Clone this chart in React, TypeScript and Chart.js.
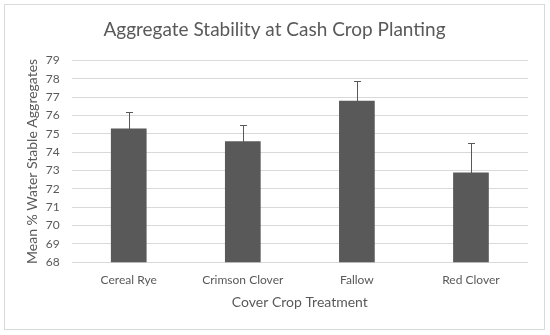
import React, { useEffect, useRef } from "react";
import { Chart, registerables } from "chart.js";

Chart.register(...registerables);

const categories = ["Cereal Rye", "Crimson Clover", "Fallow", "Red Clover"];
const means = [75.3, 74.6, 76.8, 72.9];
const errors = [0.9, 0.9, 1.1, 1.6];
const yMin = 68;
const yMax = 79;
const chartTitle = "Aggregate Stability at Cash Crop Planting";

const FONT = "Lato, 'Open Sans', sans-serif";
const TEXT = "#595959";

const titlePlugin = {
  id: "centeredTitle",
  afterDraw(chart: any) {
    const ctx = chart.ctx;
    ctx.save();
    ctx.fillStyle = TEXT;
    ctx.font = `19px ${FONT}`;
    ctx.textAlign = "center";
    ctx.textBaseline = "middle";
    ctx.fillText(chartTitle, 274.5, 30);
    ctx.restore();
  },
};

const errorBarPlugin = {
  id: "errorBars",
  afterDatasetsDraw(chart: any) {
    const meta = chart.getDatasetMeta(0);
    const ys = chart.scales.y;
    const ctx = chart.ctx;
    ctx.save();
    ctx.strokeStyle = "#595959";
    ctx.lineWidth = 1;
    meta.data.forEach((bar: any, i: number) => {
      const x = Math.round(bar.x) + 0.5;
      const top = Math.round(ys.getPixelForValue(means[i] + errors[i])) + 0.5;
      const bot = Math.round(ys.getPixelForValue(means[i] - errors[i])) + 0.5;
      ctx.beginPath();
      ctx.moveTo(x, top);
      ctx.lineTo(x, bot);
      ctx.moveTo(x - 3.5, top);
      ctx.lineTo(x + 3.5, top);
      ctx.moveTo(x - 3.5, bot);
      ctx.lineTo(x + 3.5, bot);
      ctx.stroke();
    });
    ctx.restore();
  },
};

export default function App() {
  const ref = useRef<HTMLCanvasElement | null>(null);
  useEffect(() => {
    if (!ref.current) return;
    const chart = new Chart(ref.current, {
      type: "bar",
      data: {
        labels: categories,
        datasets: [
          {
            data: means,
            backgroundColor: "#595959",
            borderWidth: 0,
            categoryPercentage: 1,
            barPercentage: 0.313,
          },
        ],
      },
      options: {
        animation: false,
        responsive: false,
        devicePixelRatio: 1,
        layout: { padding: { left: 0, right: 22, top: 60.5, bottom: 0 } },
        plugins: {
          legend: { display: false },
          tooltip: { enabled: false },
          title: { display: false },
        },
        scales: {
          x: {
            grid: { display: false },
            border: { display: false },
            ticks: {
              color: TEXT,
              font: { family: FONT, size: 12 },
              padding: 3,
              maxRotation: 0,
            },
            title: {
              display: true,
              text: "Cover Crop Treatment",
              color: TEXT,
              font: { family: FONT, size: 14, lineHeight: 1.2 },
              padding: { top: 0, bottom: 24.5 },
            },
            afterFit(scale: any) {
              scale.height = 72.7;
            },
          },
          y: {
            min: yMin,
            max: yMax,
            grid: { color: "#d9d9d9", lineWidth: 1, drawTicks: false },
            border: { display: false },
            ticks: {
              stepSize: 1,
              color: TEXT,
              font: { family: FONT, size: 12 },
              padding: 12,
            },
            title: {
              display: true,
              text: "Mean % Water Stable Aggregates",
              color: TEXT,
              font: { family: FONT, size: 14, lineHeight: 1.2 },
              padding: { top: 24, bottom: 0 },
            },
            afterFit(scale: any) {
              scale.width = 71.7;
            },
          },
        },
      },
      plugins: [errorBarPlugin, titlePlugin],
    });
    return () => chart.destroy();
  }, []);

  return (
    <div
      style={{
        position: "fixed",
        left: 0,
        top: 0,
        width: 550,
        height: 335,
        background: "#fff",
      }}
    >
      <div
        style={{
          position: "absolute",
          left: 4,
          top: 4,
          width: 541,
          height: 326,
          border: "1px solid #d9d9d9",
          boxSizing: "border-box",
        }}
      />
      <canvas
        ref={ref}
        width={550}
        height={335}
        style={{ position: "absolute", left: 0, top: 0, width: 550, height: 335 }}
      />
    </div>
  );
}
